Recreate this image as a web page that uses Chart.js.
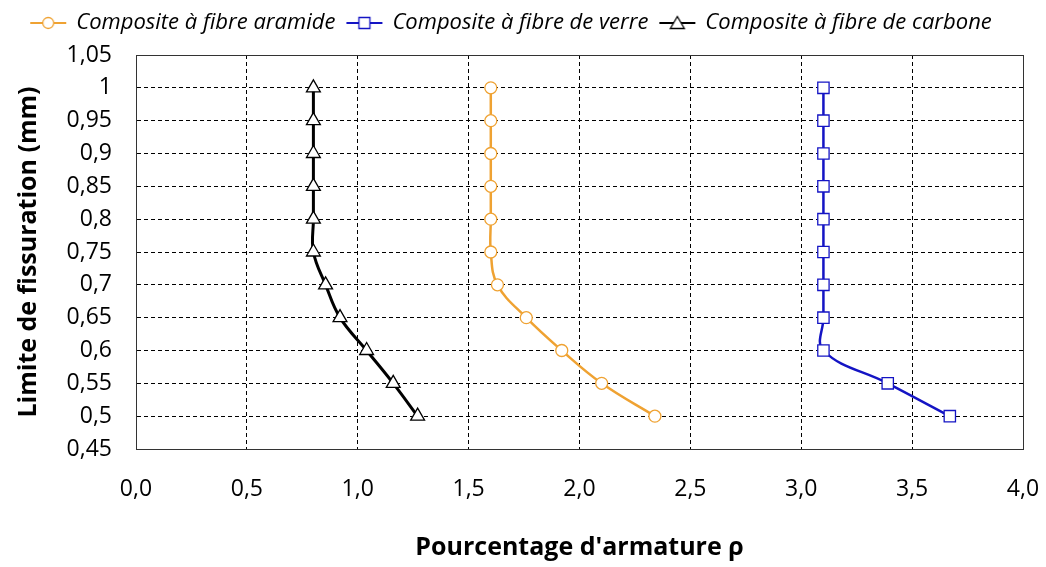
<!DOCTYPE html>
<html>
<head>
<meta charset="utf-8">
<script src="https://cdn.jsdelivr.net/npm/chart.js@4"></script>
<style>
  html, body { margin: 0; padding: 0; background: #fff; }
  #wrap { width: 1046px; height: 567px; }
</style>
</head>
<body>
<div id="wrap"><canvas id="crackChart" width="1046" height="567"></canvas></div>
<script>
// crack width limit (y) against reinforcement ratio (x)
const crackLimits = [0.5, 0.55, 0.6, 0.65, 0.7, 0.75, 0.8, 0.85, 0.9, 0.95, 1.0];
const aramideRho = [2.34, 2.10, 1.92, 1.76, 1.63, 1.60, 1.60, 1.60, 1.60, 1.60, 1.60];
const verreRho = [3.67, 3.39, 3.10, 3.10, 3.10, 3.10, 3.10, 3.10, 3.10, 3.10, 3.10];
const carboneRho = [1.27, 1.16, 1.04, 0.92, 0.855, 0.80, 0.80, 0.80, 0.80, 0.80, 0.80];

const seriesNames = ['Composite à fibre aramide', 'Composite à fibre de verre', 'Composite à fibre de carbone'];

const xTicks = [0, 0.5, 1, 1.5, 2, 2.5, 3, 3.5, 4];
const xTickLabels = ['0,0', '0,5', '1,0', '1,5', '2,0', '2,5', '3,0', '3,5', '4,0'];
const yTicks = [0.45, 0.5, 0.55, 0.6, 0.65, 0.7, 0.75, 0.8, 0.85, 0.9, 0.95, 1, 1.05];
const yTickLabels = ['0,45', '0,5', '0,55', '0,6', '0,65', '0,7', '0,75', '0,8', '0,85', '0,9', '0,95', '1', '1,05'];

const xTitle = "Pourcentage d'armature ρ";
const yTitle = 'Limite de fissuration (mm)';

const FONT = '"Open Sans", Lato, sans-serif';

function toPoints(xs) {
  return xs.map((x, i) => ({ x: x, y: crackLimits[i] }));
}

// small line + marker icon for the legend, like Excel does
function legendIcon(color, shape) {
  const c = document.createElement('canvas');
  c.width = 40; c.height = 16;
  const g = c.getContext('2d');
  g.strokeStyle = color;
  g.lineWidth = 2;
  g.beginPath(); g.moveTo(2, 8); g.lineTo(38, 8); g.stroke();
  g.fillStyle = '#fff';
  g.lineWidth = 1.3;
  g.beginPath();
  if (shape === 'circle') g.arc(20, 8, 5.5, 0, Math.PI * 2);
  else if (shape === 'rect') g.rect(14.5, 2.5, 11, 11);
  else { g.moveTo(20, 1.5); g.lineTo(27, 13.5); g.lineTo(13, 13.5); g.closePath(); }
  g.fill(); g.stroke();
  return c;
}

const colors = ['#EFA232', '#1414C4', '#000000'];
const shapes = ['circle', 'rect', 'triangle'];
const icons = colors.map((c, i) => legendIcon(c, shapes[i]));

const framePlugin = {
  id: 'frame',
  afterDraw(chart) {
    const a = chart.chartArea, g = chart.ctx;
    g.save();
    g.strokeStyle = '#333';
    g.lineWidth = 1;
    g.strokeRect(Math.round(a.left) + 0.5, Math.round(a.top) + 0.5, Math.round(a.right - a.left), Math.round(a.bottom - a.top));
    g.restore();
  }
};

// extra room under the legend
const legendGap = {
  id: 'legendGap',
  beforeInit(chart) {
    const fit = chart.legend.fit;
    chart.legend.fit = function () {
      fit.bind(chart.legend)();
      this.height += 11;
    };
  }
};

const ctx = document.getElementById('crackChart').getContext('2d');
new Chart(ctx, {
  type: 'scatter',
  data: {
    datasets: [
      { label: seriesNames[0], data: toPoints(aramideRho), borderColor: colors[0], backgroundColor: '#fff',
        pointStyle: 'circle', pointRadius: 6, pointBorderWidth: 1.3, borderWidth: 2.5, showLine: true, tension: 0.4 },
      { label: seriesNames[1], data: toPoints(verreRho), borderColor: colors[1], backgroundColor: '#fff',
        pointStyle: 'rect', pointRadius: 8, pointBorderWidth: 1.3, borderWidth: 2.5, showLine: true, tension: 0.4 },
      { label: seriesNames[2], data: toPoints(carboneRho), borderColor: colors[2], backgroundColor: '#fff',
        pointStyle: 'triangle', pointRadius: 8, pointBorderWidth: 1.3, borderWidth: 3, showLine: true, tension: 0.4 }
    ]
  },
  options: {
    responsive: false,
    animation: false,
    layout: { padding: { left: 0, right: 23, top: 0, bottom: 0 } },
    plugins: {
      tooltip: { enabled: false },
      legend: {
        position: 'top',
        align: 'center',
        labels: {
          usePointStyle: true,
          pointStyleWidth: 34,
          padding: 12,
          color: '#000',
          font: { family: FONT, size: 22, style: 'italic' },
          generateLabels: (chart) => chart.data.datasets.map((ds, i) => ({
            text: ds.label, pointStyle: icons[i], datasetIndex: i,
            fillStyle: '#fff', strokeStyle: colors[i], lineWidth: 0, hidden: false
          }))
        }
      }
    },
    scales: {
      x: {
        type: 'linear', min: 0, max: 4,
        afterBuildTicks: (axis) => { axis.ticks = xTicks.map(v => ({ value: v })); },
        afterFit: (axis) => { axis.height = 118; axis.paddingLeft = 0; axis.paddingRight = 0; },
        ticks: {
          padding: 27, color: '#000',
          font: { family: FONT, size: 23 },
          callback: (v) => xTickLabels[xTicks.indexOf(v)]
        },
        grid: { color: '#000', lineWidth: 1, drawTicks: false, tickLength: 0 },
        border: { display: true, color: '#333', dash: [4, 3] },
        title: { display: true, text: xTitle, color: '#000', padding: { top: 0, bottom: 4 },
          font: { family: FONT, size: 25, weight: 'bold' } }
      },
      y: {
        type: 'linear', min: 0.45, max: 1.05,
        afterBuildTicks: (axis) => { axis.ticks = yTicks.map(v => ({ value: v })); },
        afterFit: (axis) => { axis.width = 136; },
        ticks: {
          padding: 24, color: '#000',
          font: { family: FONT, size: 23 },
          callback: (v) => yTickLabels[yTicks.findIndex(t => Math.abs(t - v) < 1e-6)]
        },
        grid: { color: '#000', lineWidth: 1, drawTicks: false, tickLength: 0 },
        border: { display: true, color: '#333', dash: [4, 3] },
        title: { display: true, text: yTitle, color: '#000', padding: { top: 14, bottom: 0 },
          font: { family: FONT, size: 25, weight: 'bold' } }
      }
    }
  },
  plugins: [framePlugin, legendGap]
});
</script>
</body>
</html>
